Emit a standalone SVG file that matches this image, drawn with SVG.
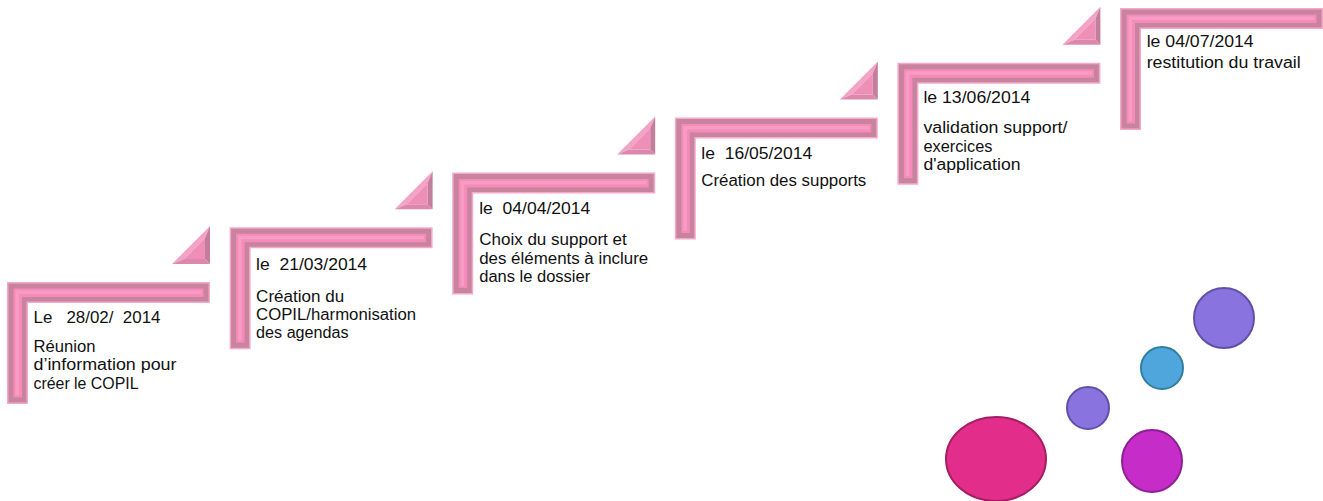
<svg xmlns="http://www.w3.org/2000/svg" xmlns:xlink="http://www.w3.org/1999/xlink" width="1323" height="501" viewBox="0 0 1323 501">
<style>
  .t { font-family: "Liberation Sans", Arial, sans-serif; font-size: 16px; fill: #111; white-space: pre; }
  .edge { fill: #F5A8C8; }
  .band { fill: #C8839F; }
  .core { fill: #F48BB8; }
  .hi { fill: #F99CC4; }
  .tf1 { fill: #F4A2C5; }
  .tf2 { fill: #C27E9B; }
  .tf3 { fill: #DC88AD; }
  .tf4 { fill: #EE8FB7; }
  .c-purple { fill: #8873DF; stroke: #6151A6; stroke-width: 2; }
  .c-blue { fill: #4EA6DC; stroke: #2F7E9E; stroke-width: 2; }
  .c-pink { fill: #E22D8B; stroke: #A41E62; stroke-width: 2; }
  .c-mag { fill: #C62DC8; stroke: #8D1E93; stroke-width: 2; }
</style>
<defs>
  <g id="frame">
    <polygon class="edge" points="0,0 203,0 203,21 21,21 21,122 0,122"/>
    <polygon class="band" points="1.5,1.5 201.5,1.5 201.5,19.5 19.5,19.5 19.5,120.5 1.5,120.5"/>
    <polygon class="core" points="6.5,6.5 196.5,6.5 196.5,15 15,15 15,115.5 6.5,115.5"/>
    <polygon class="hi" points="8.5,8.5 194.5,8.5 194.5,12 12,12 12,113.5 8.5,113.5"/>
  </g>
  <g id="tri">
    <polygon class="tf1" points="165,-18 203,-56 198,-44 177,-23"/>
    <polygon class="tf2" points="203,-56 203,-18 198,-23 198,-44"/>
    <polygon class="tf3" points="203,-18 165,-18 177,-23 198,-23"/>
    <polygon class="tf4" points="177,-23 198,-44 198,-23"/>
  </g>
</defs>

<g id="step1" transform="translate(7,282)">
  <use xlink:href="#frame" href="#frame"/>
  <use xlink:href="#tri" href="#tri"/>
  <text class="t"><tspan x="26.5" y="41" textLength="127" lengthAdjust="spacingAndGlyphs">Le   28/02/  2014</tspan><tspan x="26.5" y="70" textLength="62" lengthAdjust="spacingAndGlyphs">Réunion</tspan><tspan x="26.5" y="88.3" textLength="143" lengthAdjust="spacingAndGlyphs">d’information pour</tspan><tspan x="26.5" y="106.6" textLength="105" lengthAdjust="spacingAndGlyphs">créer le COPIL</tspan></text>
</g>

<g id="step2" transform="translate(229.6,227.2)">
  <use xlink:href="#frame" href="#frame"/>
  <use xlink:href="#tri" href="#tri"/>
  <text class="t"><tspan x="26.5" y="42.5" textLength="111" lengthAdjust="spacingAndGlyphs">le  21/03/2014</tspan><tspan x="26.5" y="74.5" textLength="88" lengthAdjust="spacingAndGlyphs">Création du</tspan><tspan x="26.5" y="92.8" textLength="160" lengthAdjust="spacingAndGlyphs">COPIL/harmonisation</tspan><tspan x="26.5" y="111.1" textLength="92.5" lengthAdjust="spacingAndGlyphs">des agendas</tspan></text>
</g>

<g id="step3" transform="translate(452.2,172.4)">
  <use xlink:href="#frame" href="#frame"/>
  <use xlink:href="#tri" href="#tri"/>
  <text class="t"><tspan x="27" y="41.5" textLength="111" lengthAdjust="spacingAndGlyphs">le  04/04/2014</tspan><tspan x="27" y="73" textLength="147.5" lengthAdjust="spacingAndGlyphs">Choix du support et</tspan><tspan x="27" y="91.3" textLength="169" lengthAdjust="spacingAndGlyphs">des éléments à inclure</tspan><tspan x="27" y="109.6" textLength="111" lengthAdjust="spacingAndGlyphs">dans le dossier</tspan></text>
</g>

<g id="step4" transform="translate(674.8,117.6)">
  <use xlink:href="#frame" href="#frame"/>
  <use xlink:href="#tri" href="#tri"/>
  <text class="t"><tspan x="26.5" y="41.5" textLength="111" lengthAdjust="spacingAndGlyphs">le  16/05/2014</tspan><tspan x="26.5" y="68.5" textLength="165" lengthAdjust="spacingAndGlyphs">Création des supports</tspan></text>
</g>

<g id="step5" transform="translate(897.4,62.8)">
  <use xlink:href="#frame" href="#frame"/>
  <use xlink:href="#tri" href="#tri"/>
  <text class="t"><tspan x="26" y="40.5" textLength="107" lengthAdjust="spacingAndGlyphs">le 13/06/2014</tspan><tspan x="26" y="70.5" textLength="144" lengthAdjust="spacingAndGlyphs">validation support/</tspan><tspan x="26" y="88.8" textLength="69" lengthAdjust="spacingAndGlyphs">exercices</tspan><tspan x="26" y="107.1" textLength="97" lengthAdjust="spacingAndGlyphs">d'application</tspan></text>
</g>

<g id="step6" transform="translate(1120,8)">
  <use xlink:href="#frame" href="#frame"/>
  <text class="t"><tspan x="26.7" y="38.7" textLength="107" lengthAdjust="spacingAndGlyphs">le 04/07/2014</tspan><tspan x="26.7" y="60.3" textLength="154" lengthAdjust="spacingAndGlyphs">restitution du travail</tspan></text>
</g>

<g id="circles">
  <ellipse class="c-pink" cx="996" cy="459" rx="50" ry="42"/>
  <circle class="c-purple" cx="1088" cy="408" r="21"/>
  <circle class="c-blue" cx="1162" cy="368" r="21"/>
  <ellipse class="c-mag" cx="1152" cy="461" rx="30" ry="31"/>
  <circle class="c-purple" cx="1224" cy="318" r="30"/>
</g>
<g id="connectors"/>
</svg>
